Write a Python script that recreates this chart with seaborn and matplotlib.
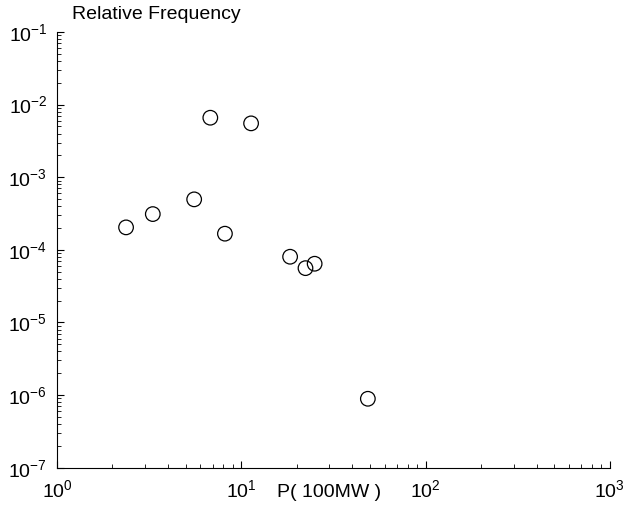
import numpy as np
import pandas as pd
import matplotlib
matplotlib.use("Agg")
import matplotlib.pyplot as plt
import seaborn as sns

# data
power = [2.37, 3.31, 5.55, 6.79, 8.15, 11.3, 18.4, 22.3, 25.0, 48.6]
rel_freq = [2.04e-4, 3.11e-4, 4.96e-4, 6.6e-3, 1.67e-4, 5.52e-3, 8.04e-5, 5.6e-5, 6.44e-5, 8.9e-7]

df = pd.DataFrame({"P": power, "freq": rel_freq})

sns.set_style("white")
plt.rcParams['font.family'] = ['Liberation Sans', 'DejaVu Sans']
plt.rcParams['mathtext.fontset'] = 'custom'
plt.rcParams['mathtext.rm'] = 'Liberation Sans'
plt.rcParams['mathtext.it'] = 'Liberation Sans'
plt.rcParams['mathtext.default'] = 'regular'
plt.rcParams['text.color'] = 'black'

fig = plt.figure(figsize=(6.36, 5.08), dpi=100)
ax = fig.add_axes([0.0896, 0.0793, 0.8694, 0.8577])

sns.scatterplot(data=df, x="P", y="freq", ax=ax, marker='o', s=110,
                facecolor='none', edgecolor='black', linewidth=0.9)

ax.set_xscale('log')
ax.set_yscale('log')
ax.set_xlim(1, 1000)
ax.set_ylim(1e-7, 1e-1)
ax.set_xticks([1, 10, 100, 1000])
ax.set_yticks([1e-7, 1e-6, 1e-5, 1e-4, 1e-3, 1e-2, 1e-1])
ax.xaxis.set_minor_locator(matplotlib.ticker.LogLocator(base=10, subs=np.arange(2, 10)))
ax.yaxis.set_minor_locator(matplotlib.ticker.LogLocator(base=10, subs=np.arange(2, 10), numticks=20))
ax.yaxis.set_minor_formatter(matplotlib.ticker.NullFormatter())
ax.xaxis.set_minor_formatter(matplotlib.ticker.NullFormatter())

for s in ['top', 'right']:
    ax.spines[s].set_visible(False)
for s in ['left', 'bottom']:
    ax.spines[s].set_color('black')
    ax.spines[s].set_linewidth(0.8)

ax.tick_params(which='both', direction='in', colors='black', labelcolor='black',
               labelsize=14, left=True, bottom=True)
ax.tick_params(which='major', length=5, width=0.8)
ax.tick_params(which='minor', length=3, width=0.6)
ax.tick_params(axis='x', pad=8)
ax.tick_params(axis='y', pad=7)

ax.set_xlabel('')
ax.set_ylabel('')
ax.text(0.027, 1.03, 'Relative Frequency', transform=ax.transAxes,
        fontsize=14, ha='left', va='baseline', color='black')
ax.text(0.398, -0.056, 'P( 100MW )', transform=ax.transAxes,
        fontsize=14, ha='left', va='center', color='black')

fig.savefig('out.png', dpi=100, facecolor='white')
